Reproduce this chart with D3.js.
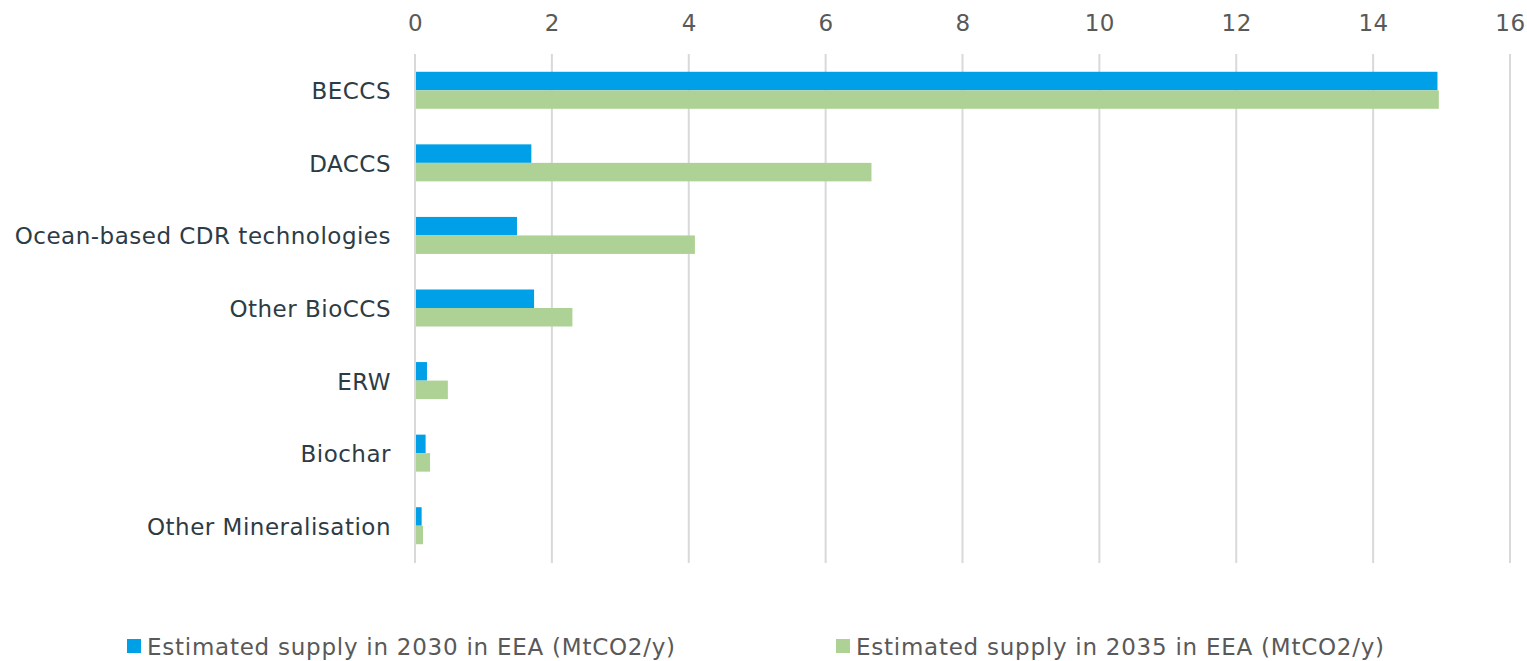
<!DOCTYPE html>
<html>
<head>
<meta charset="utf-8">
<script src="https://cdn.jsdelivr.net/npm/d3@7"></script>
<style>
  html, body { margin: 0; padding: 0; background: #ffffff; }
  svg { display: block; }
</style>
</head>
<body>
<svg id="chart" width="1527" height="661"></svg>
<script>
// CDR technologies and estimated removal supply (MtCO2/y)
const categories = ["BECCS", "DACCS", "Ocean-based CDR technologies", "Other BioCCS", "ERW", "Biochar", "Other Mineralisation"];
const supply2030 = [14.94, 1.70, 1.49, 1.74, 0.175, 0.155, 0.097];
const supply2035 = [14.96, 6.67, 4.09, 2.30, 0.48, 0.22, 0.117];
const seriesNames = ["Estimated supply in 2030 in EEA (MtCO2/y)", "Estimated supply in 2035 in EEA (MtCO2/y)"];
const seriesColors = ["#00a0e9", "#aed295"];
const tickValues = [0, 2, 4, 6, 8, 10, 12, 14, 16];

const svg = d3.select("#chart");
const margin = { left: 415, right: 17, top: 54, bottom: 99 };
const W = 1527, H = 661;

const x = d3.scaleLinear().domain([0, 16]).range([margin.left, W - margin.right]);
const y = d3.scaleBand().domain(categories).range([margin.top, H - margin.bottom]).paddingInner(0.49).paddingOuter(0.245);
const ySub = d3.scaleBand().domain([0, 1]).range([0, y.bandwidth()]);

const font = "'DejaVu Sans', Verdana, sans-serif";
const fontSize = 23;

// vertical gridlines
svg.append("g")
  .selectAll("line")
  .data(tickValues)
  .join("line")
  .attr("x1", d => x(d)).attr("x2", d => x(d))
  .attr("y1", margin.top).attr("y2", H - margin.bottom + 1)
  .attr("stroke", "#d9d9d9").attr("stroke-width", 2);

// top axis labels
const axis = d3.axisTop(x).tickValues(tickValues).tickSize(0).tickPadding(0).tickFormat(d3.format("d"));
const axG = svg.append("g").attr("transform", `translate(0, 31)`).call(axis);
axG.select(".domain").remove();
axG.selectAll("text")
  .attr("font-family", font).attr("font-size", fontSize)
  .attr("letter-spacing", 0.6)
  .attr("fill", "#595959").attr("dy", 0);

// bars
const series = [supply2030, supply2035];
series.forEach((vals, si) => {
  svg.append("g")
    .selectAll("rect")
    .data(categories.map((c, i) => ({ c, v: vals[i] })))
    .join("rect")
    .attr("x", x(0) + 1)
    .attr("y", d => y(d.c) + ySub(si))
    .attr("width", d => x(d.v) - x(0) - 1)
    .attr("height", ySub.bandwidth())
    .attr("fill", seriesColors[si]);
});

// category labels
svg.append("g")
  .selectAll("text")
  .data(categories)
  .join("text")
  .attr("x", margin.left - 24)
  .attr("y", d => y(d) + y.bandwidth() / 2 + 9)
  .attr("text-anchor", "end")
  .attr("font-family", font)
  .attr("font-size", fontSize)
  .attr("letter-spacing", 0.5)
  .attr("fill", "#2d3b45")
  .text(d => d);

// legend
const legendX = [127, 836];
const legend = svg.append("g");
seriesNames.forEach((name, i) => {
  legend.append("rect")
    .attr("x", legendX[i]).attr("y", 639)
    .attr("width", 14).attr("height", 14)
    .attr("fill", seriesColors[i]);
  legend.append("text")
    .attr("x", legendX[i] + 20).attr("y", 655)
    .attr("font-family", font).attr("font-size", fontSize)
    .attr("letter-spacing", 0.75)
    .attr("fill", "#595959")
    .text(name);
});
</script>
</body>
</html>
